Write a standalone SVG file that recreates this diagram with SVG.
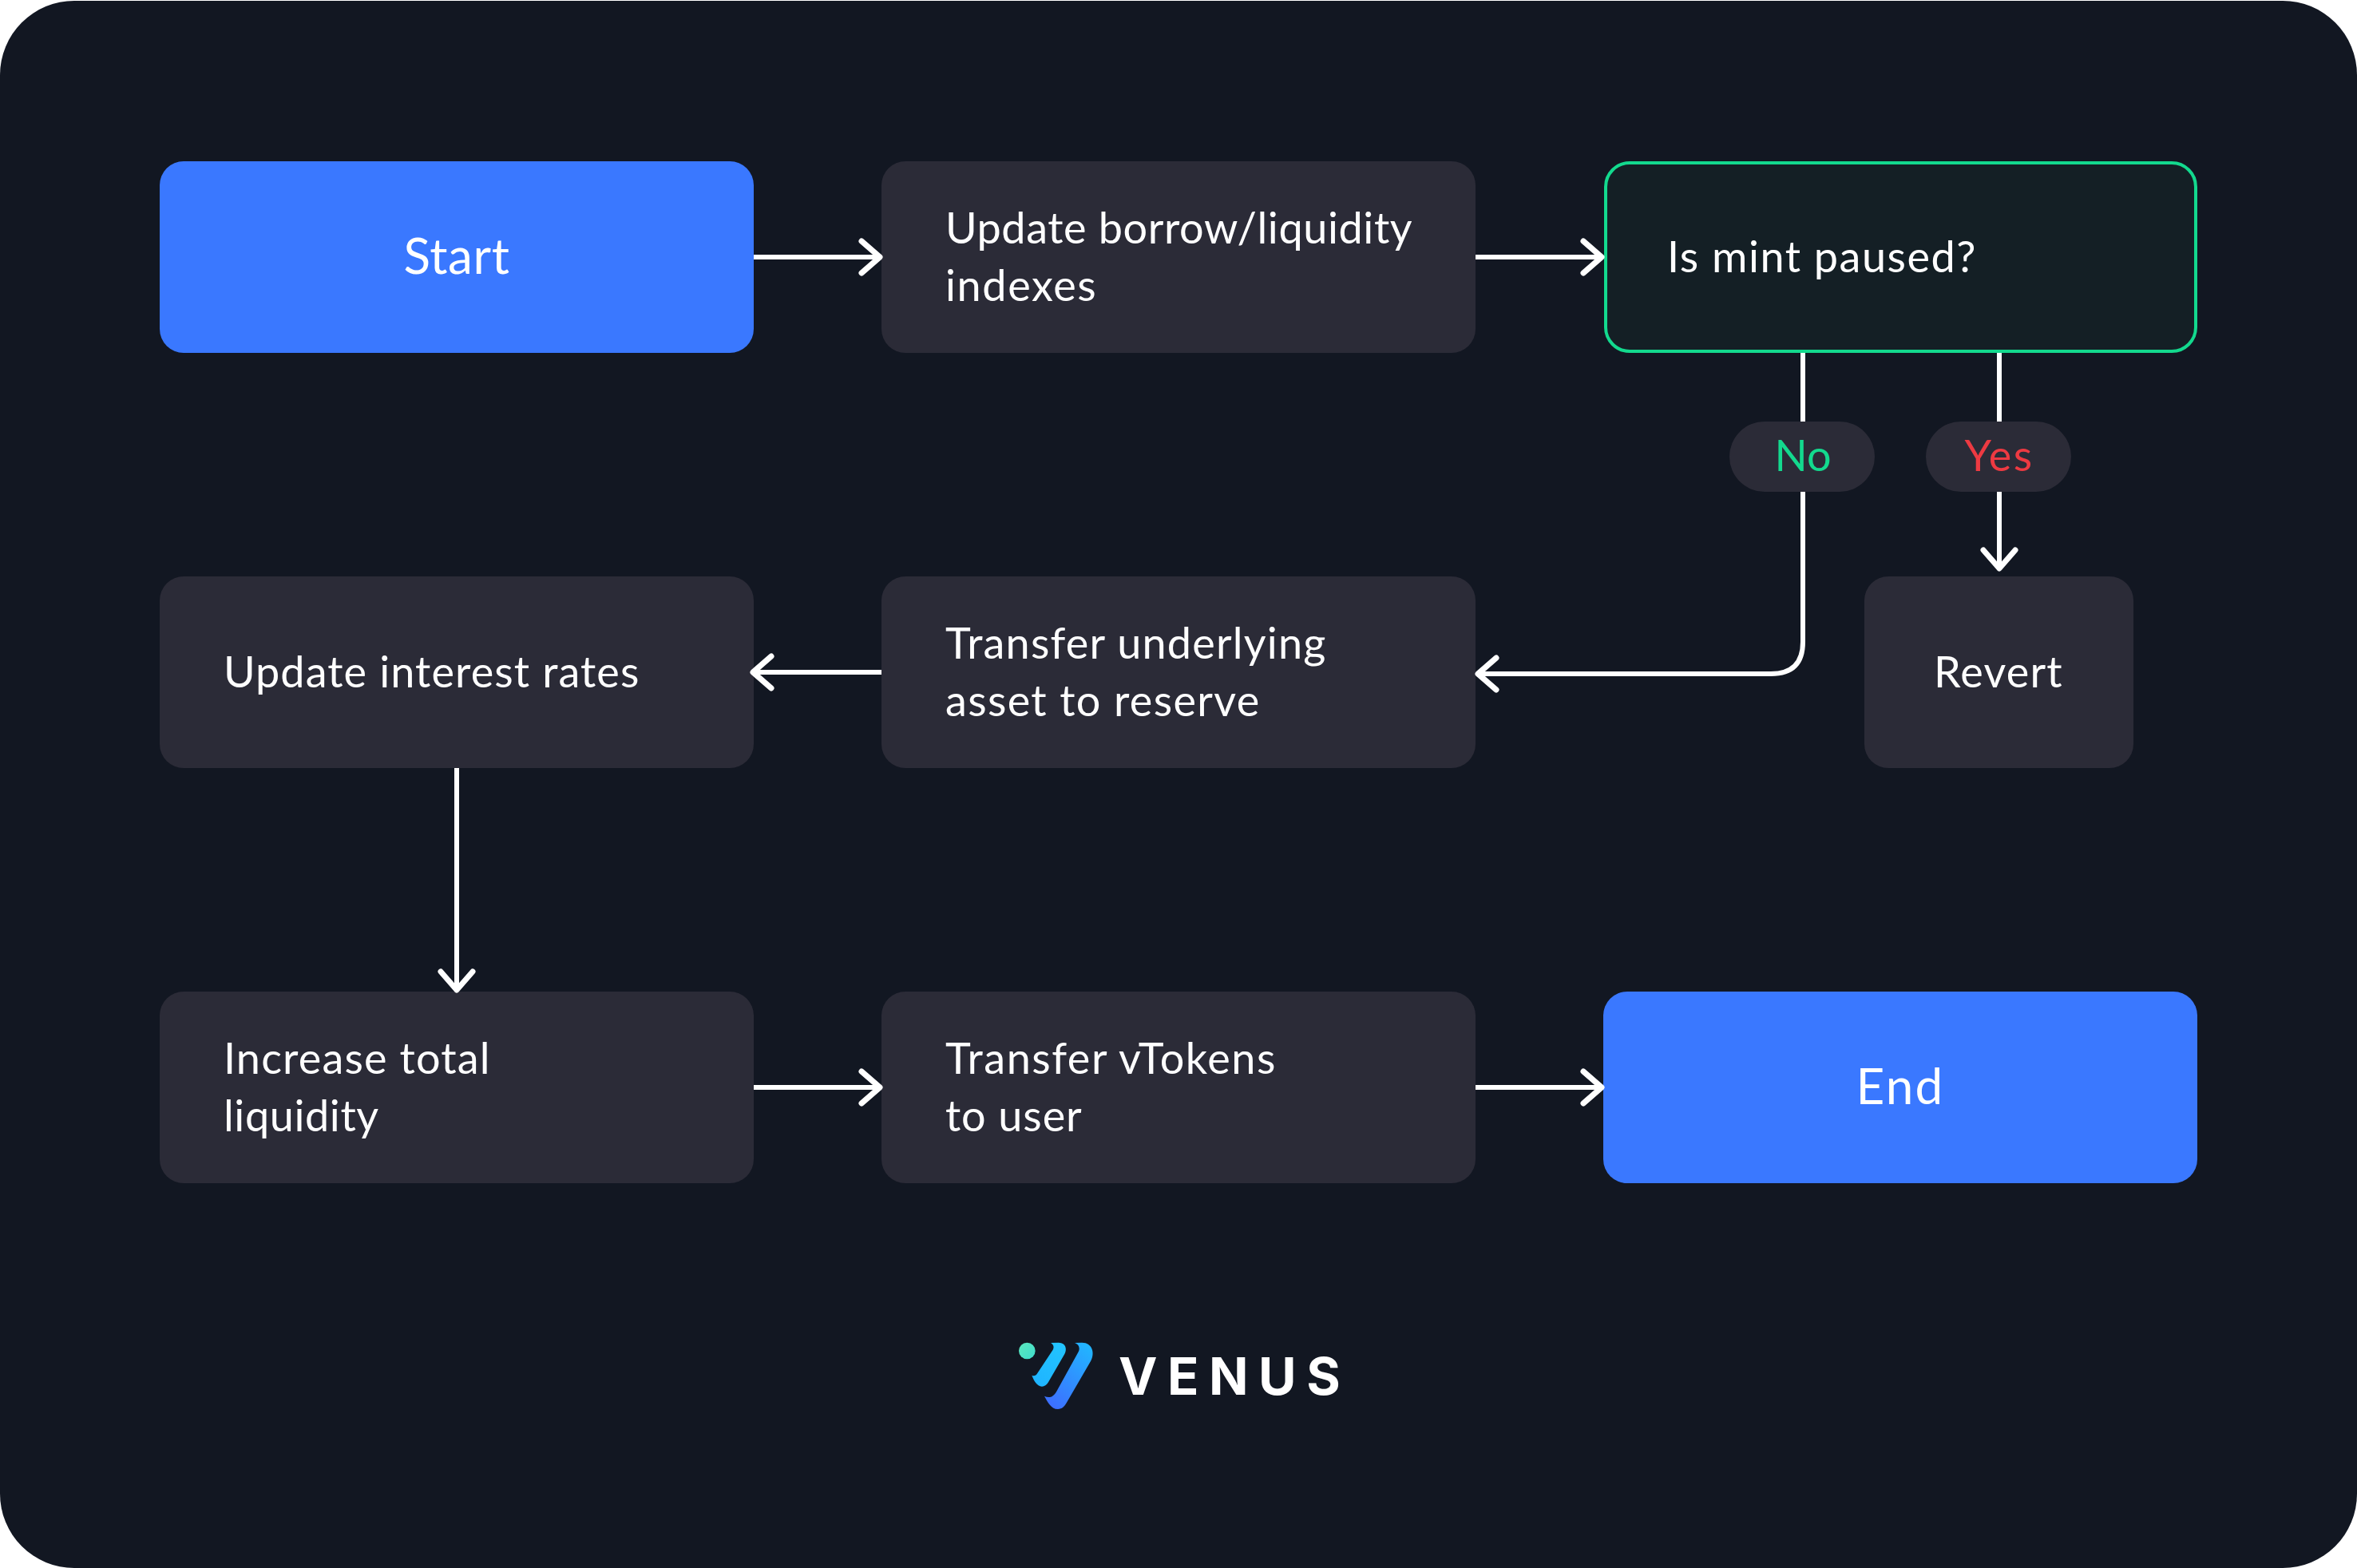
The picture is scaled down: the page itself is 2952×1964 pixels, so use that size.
<svg xmlns="http://www.w3.org/2000/svg" width="2952" height="1964" viewBox="0 0 2952 1964">
<style>
.box{fill:#2b2b37}
.blue{fill:#3a78ff}
.t{font-family:"Lato","Noto Sans",sans-serif;font-size:54px;fill:#fff;letter-spacing:.6px}
.c{text-anchor:middle}
.big{font-size:62px}
.conn{fill:none;stroke:#fff;stroke-width:6;marker-end:url(#arrow)}
.plain{fill:none;stroke:#fff;stroke-width:6}
</style>
<defs>
<marker id="arrow" markerUnits="userSpaceOnUse" markerWidth="60" markerHeight="60" refX="40" refY="30" orient="auto" overflow="visible">
<path d="M17,10 L40,30 L17,50" fill="none" stroke="#fff" stroke-width="7" stroke-linecap="round" stroke-linejoin="round"/>
</marker>
<linearGradient id="g0" x1="0" y1="0" x2="1" y2="1"><stop offset="0" stop-color="#5ce8bd"/><stop offset="1" stop-color="#3fdccd"/></linearGradient>
<linearGradient id="g1" x1="0.8" y1="0" x2="0.2" y2="1"><stop offset="0" stop-color="#22c4ff"/><stop offset="1" stop-color="#1fb4ff"/></linearGradient>
<linearGradient id="g2" x1="0.8" y1="0" x2="0.2" y2="1"><stop offset="0" stop-color="#22b4ff"/><stop offset="1" stop-color="#3d6eff"/></linearGradient>
</defs>
<rect x="0" y="1" width="2952" height="1963" rx="93" fill="#121722"/>
<g id="start"><rect class="blue" x="200" y="202" width="744" height="240" rx="30"/><text class="t big c" x="572" y="343">Start</text></g>
<g id="update-indexes"><rect class="box" x="1104" y="202" width="744" height="240" rx="30"/><text class="t" x="1184" y="305">Update borrow/liquidity</text><text class="t" x="1184" y="377" style="letter-spacing:1.6px">indexes</text></g>
<g id="decision"><rect x="2011" y="204" width="739" height="236" rx="30" fill="#141f25" stroke="#13d98e" stroke-width="4"/><text class="t" x="2088" y="341" style="letter-spacing:1.5px">Is mint paused?</text></g>
<g id="update-rates"><rect class="box" x="200" y="722" width="744" height="240" rx="30"/><text class="t" x="280" y="861" style="letter-spacing:1.1px">Update interest rates</text></g>
<g id="transfer-underlying"><rect class="box" x="1104" y="722" width="744" height="240" rx="30"/><text class="t" x="1184" y="825" style="letter-spacing:1.2px">Transfer underlying</text><text class="t" x="1184" y="897" style="letter-spacing:1.35px">asset to reserve</text></g>
<g id="revert"><rect class="box" x="2335" y="722" width="337" height="240" rx="30"/><text class="t c" x="2503" y="861" style="letter-spacing:1.2px">Revert</text></g>
<g id="increase-liquidity"><rect class="box" x="200" y="1242" width="744" height="240" rx="30"/><text class="t" x="280" y="1345" style="letter-spacing:1.15px">Increase total</text><text class="t" x="280" y="1417">liquidity</text></g>
<g id="transfer-vtokens"><rect class="box" x="1104" y="1242" width="744" height="240" rx="30"/><text class="t" x="1184" y="1345" style="letter-spacing:1.55px">Transfer vTokens</text><text class="t" x="1184" y="1417" style="letter-spacing:.9px">to user</text></g>
<g id="end"><rect class="blue" x="2008" y="1242" width="744" height="240" rx="30"/><text class="t big c" x="2380" y="1383" style="letter-spacing:2.2px">End</text></g>
<g id="connectors">
<path class="conn" d="M944,322H1102"/>
<path class="conn" d="M1848,322H2006"/>
<path class="plain" d="M2258,442V530"/>
<path class="conn" d="M2258,610V804Q2258,844 2218,844H1851"/>
<path class="plain" d="M2504,442V530"/>
<path class="conn" d="M2504,610V712"/>
<path class="conn" d="M1104,842H943"/>
<path class="conn" d="M572,962V1240"/>
<path class="conn" d="M944,1362H1102"/>
<path class="conn" d="M1848,1362H2006"/>
</g>
<g id="label-no"><rect class="box" x="2166" y="528" width="182" height="88" rx="44"/><text class="t c" x="2258" y="590" style="fill:#13d98e;letter-spacing:0">No</text></g>
<g id="label-yes"><rect class="box" x="2412" y="528" width="182" height="88" rx="44"/><text class="t c" x="2504" y="590" style="fill:#ed3a42;letter-spacing:2.4px">Yes</text></g>
<g id="logo">
<g transform="translate(1240,1640) scale(.3333)">
<circle cx="139" cy="156" r="31" fill="url(#g0)"/>
<path d="M228,126C238,132 242,142 236,152L178,240C172,250 165,252 157,248C165,268 175,288 195,290C205,290 212,283 218,275L280,168C290,150 285,126 258,125Z" fill="url(#g1)"/>
<path d="M318,126C332,130 340,145 332,160L250,308C238,330 222,335 204,326C215,345 228,375 255,375C270,375 280,365 287,352L378,195C395,165 385,125 345,125Z" fill="url(#g2)"/>
</g>
<text x="1401" y="1747" style="font-family:Inter,'Liberation Sans',sans-serif;font-size:65px;font-weight:700;letter-spacing:12.5px;fill:#fff">VENUS</text>
</g>
</svg>
